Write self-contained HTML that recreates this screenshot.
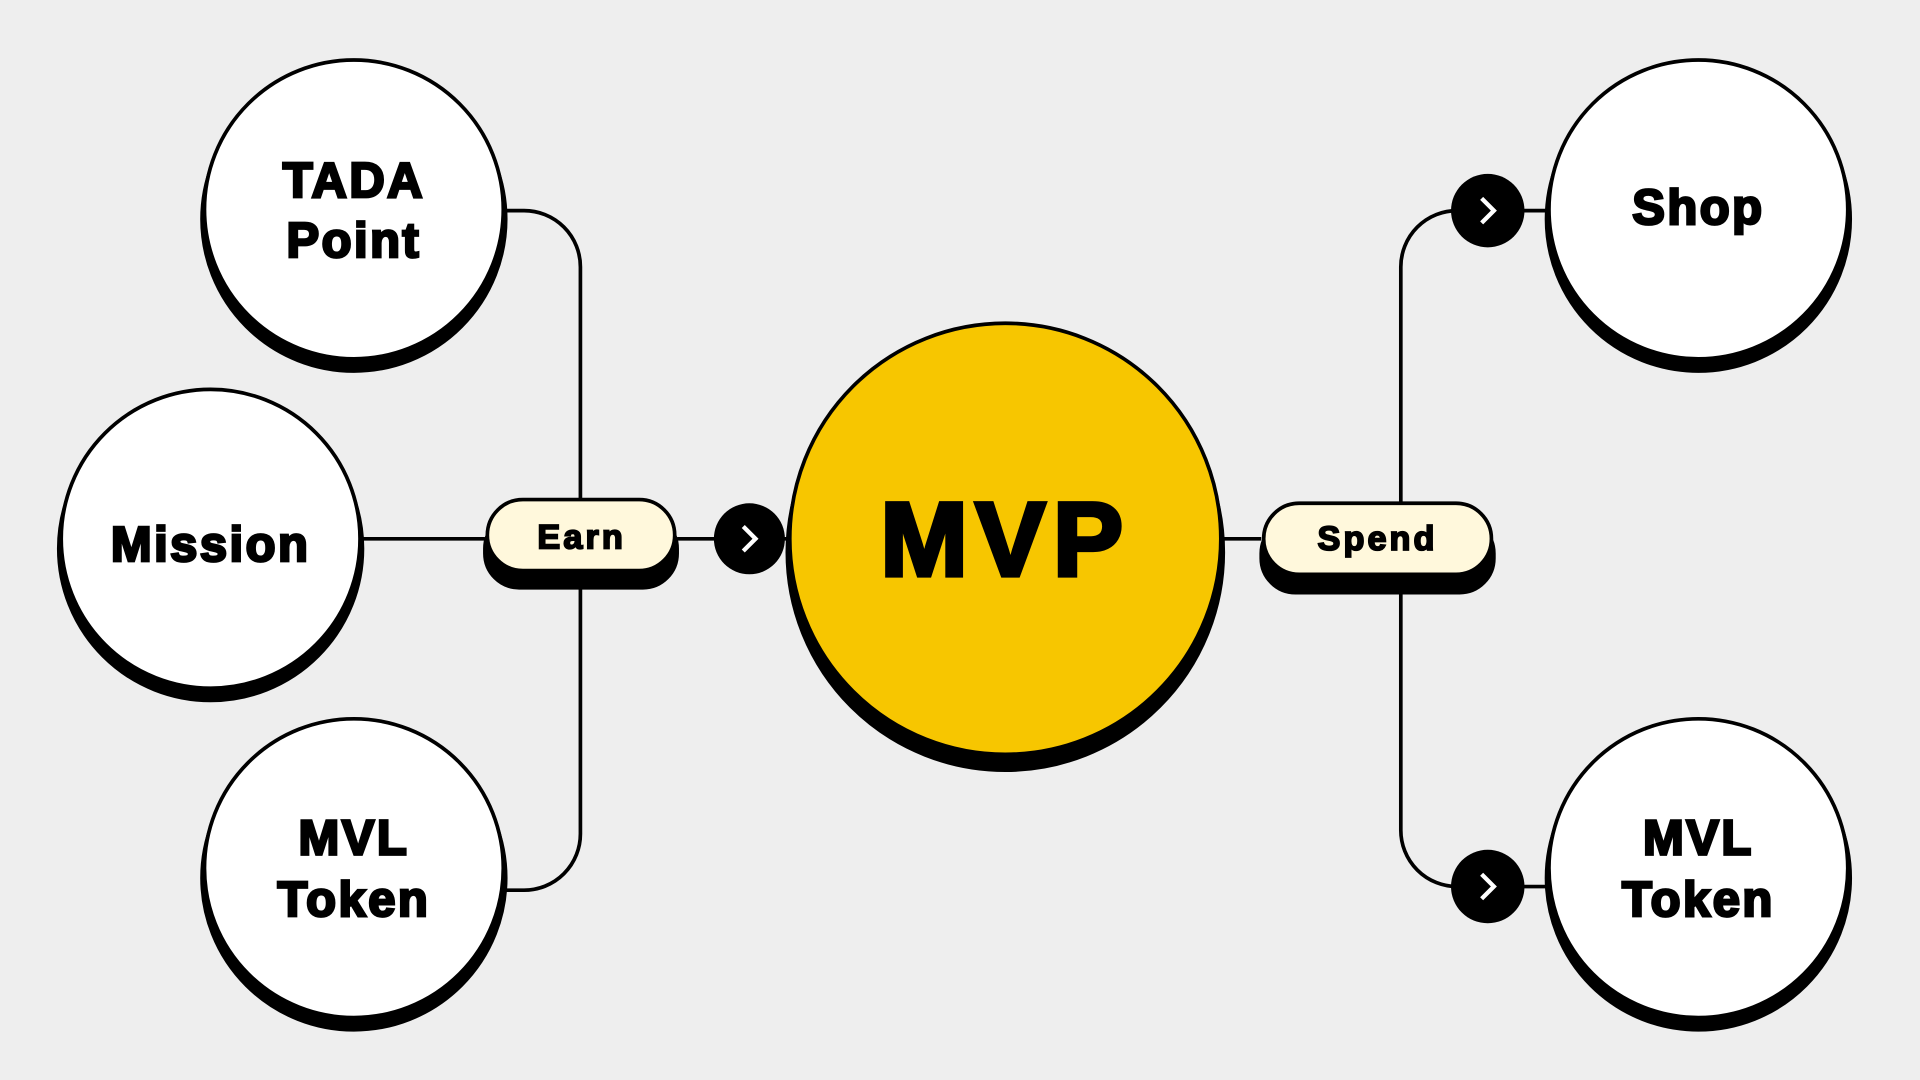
<!DOCTYPE html>
<html><head><meta charset="utf-8"><style>
html,body{margin:0;padding:0;background:#eeeeee;}
svg{display:block;}
text{font-family:"Liberation Sans",sans-serif;font-weight:900;fill:#000;stroke:#000;text-anchor:middle;}
</style></head><body>
<svg width="1920" height="1080" viewBox="0 0 1568 882" xmlns="http://www.w3.org/2000/svg">
<rect width="1568" height="882" fill="#eeeeee"/>
<g fill="none" stroke="#000" stroke-width="3">
<path d="M412 172 H428 A46 46 0 0 1 474 218 V681 A46 46 0 0 1 428 727 H412"/>
<path d="M296 440 H396"/>
<path d="M553 440 H645"/>
<path d="M1000 440 H1030"/>
<path d="M1263 172 H1190 A46 46 0 0 0 1144 218 V678 A46 46 0 0 0 1190 724 H1263"/>
</g>
<g stroke="#000" stroke-width="3">
<circle cx="289" cy="179" r="124" fill="#000"/>
<circle cx="289" cy="171" r="122" fill="#fff"/>
<circle cx="172" cy="448" r="124" fill="#000"/>
<circle cx="172" cy="440" r="122" fill="#fff"/>
<circle cx="289" cy="717" r="124" fill="#000"/>
<circle cx="289" cy="709" r="122" fill="#fff"/>
<circle cx="1387" cy="179" r="124" fill="#000"/>
<circle cx="1387" cy="171" r="122" fill="#fff"/>
<circle cx="1387" cy="717" r="124" fill="#000"/>
<circle cx="1387" cy="709" r="122" fill="#fff"/>
<circle cx="821" cy="451" r="178" fill="#000"/>
<circle cx="821" cy="440" r="176" fill="#f7c600"/>
<rect x="396" y="420" width="157" height="60" rx="28" fill="#000"/>
<rect x="398" y="408" width="153" height="58" rx="29" fill="#fff8dc"/>
<rect x="1030" y="424" width="190" height="60" rx="28" fill="#000"/>
<rect x="1032" y="411" width="186" height="58" rx="29" fill="#fff8dc"/>
</g>
<g>
<circle cx="612" cy="440" r="29" fill="#000"/>
<circle cx="1215" cy="172" r="30" fill="#000"/>
<circle cx="1215" cy="724" r="30" fill="#000"/>
<g fill="none" stroke="#fff" stroke-width="3.5">
<path d="M607 430 L617 440 L607 450"/>
<path d="M1210 162 L1220 172 L1210 182"/>
<path d="M1210 714 L1220 724 L1210 734"/>
</g>
</g>
<g stroke-width="2.2">
<text x="289" y="161" font-size="40" letter-spacing="2">TADA</text>
<text x="289" y="210" font-size="40" letter-spacing="2">Point</text>
<text x="172" y="458" font-size="40" letter-spacing="2">Mission</text>
<text x="289" y="698" font-size="40" letter-spacing="2">MVL</text>
<text x="289" y="748" font-size="40" letter-spacing="2">Token</text>
<text x="1387" y="183" font-size="40" letter-spacing="2">Shop</text>
<text x="1387" y="698" font-size="40" letter-spacing="2">MVL</text>
<text x="1387" y="748" font-size="40" letter-spacing="2">Token</text>
</g>
<text x="821" y="470" font-size="86" letter-spacing="6" stroke-width="3.5">MVP</text>
<g stroke-width="1.5">
<text x="475" y="448" font-size="28" letter-spacing="2.5">Earn</text>
<text x="1125" y="449" font-size="28" letter-spacing="2.5">Spend</text>
</g>
</svg>
</body></html>
